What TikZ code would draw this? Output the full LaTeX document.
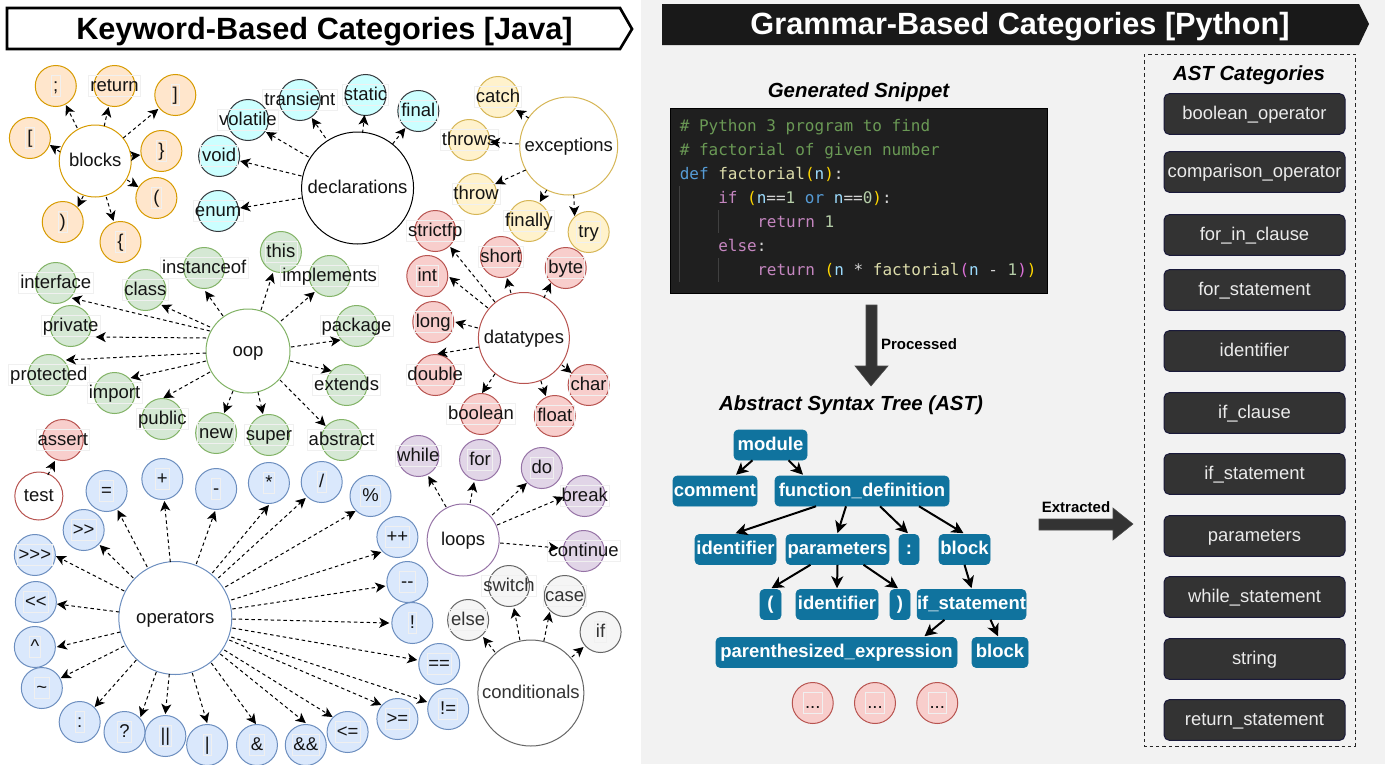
\documentclass[tikz,border=0pt]{standalone}
\usepackage{fontspec}
\usetikzlibrary{arrows.meta,calc}
\newfontfamily\sansf{Liberation Sans}[Ligatures=NoCommon]
\newfontfamily\codef{DejaVu Sans Mono}
\definecolor{orF}{HTML}{FFE6CC}\definecolor{orD}{HTML}{D79B00}
\definecolor{cyF}{HTML}{CCFFFF}\definecolor{cyD}{HTML}{36393D}
\definecolor{yeF}{HTML}{FFF2CC}\definecolor{yeD}{HTML}{D6B656}
\definecolor{reF}{HTML}{F8CECC}\definecolor{reD}{HTML}{B85450}
\definecolor{grF}{HTML}{D5E8D4}\definecolor{grD}{HTML}{82B366}
\definecolor{blF}{HTML}{DAE8FC}\definecolor{blD}{HTML}{6C8EBF}
\definecolor{puF}{HTML}{E1D5E7}\definecolor{puD}{HTML}{9673A6}
\definecolor{siF}{HTML}{F5F5F5}\definecolor{siD}{HTML}{666666}
\definecolor{panel}{HTML}{F2F2F2}
\definecolor{astblue}{HTML}{10739E}
\definecolor{btn}{HTML}{333333}\definecolor{btnD}{HTML}{1A1A3A}
\definecolor{cCom}{HTML}{6A9955}\definecolor{cKey}{HTML}{569CD6}
\definecolor{cFun}{HTML}{DCDCAA}\definecolor{cPar}{HTML}{FFD700}
\definecolor{cVar}{HTML}{9CDCFE}\definecolor{cTxt}{HTML}{D4D4D4}
\definecolor{cCtl}{HTML}{C586C0}\definecolor{cNum}{HTML}{B5CEA8}
\definecolor{cPink}{HTML}{DA70D6}
\newcommand{\fpx}[1]{\fontsize{\dimexpr#1pt*3/4\relax}{\dimexpr#1pt*9/10\relax}\selectfont}
\tikzset{
  x=0.75pt,y=-0.75pt,
  leafc/.style={circle,draw,line width=0.75pt,minimum size=30.75pt,inner sep=0pt},
  hub/.style={circle,draw,line width=0.75pt,fill=white,inner sep=0pt},
  lab/.style={draw=black!6,line width=0.5pt,inner xsep=1.2pt,inner ysep=1pt,text height=11pt,text depth=2.5pt,font=\sansf\fpx{18.5},text=black!92},
  hubtxt/.style={font=\sansf\fpx{18.5},text=black!92,inner sep=0pt,text height=11pt,text depth=2.5pt},
  or/.style={fill=orF,draw=orD},cy/.style={fill=cyF,draw=cyD},ye/.style={fill=yeF,draw=yeD},
  re/.style={fill=reF,draw=reD},gr/.style={fill=grF,draw=grD},bl/.style={fill=blF,draw=blD},
  pu/.style={fill=puF,draw=puD},si/.style={fill=siF,draw=siD},
  dep/.style={draw=black,line width=0.75pt,dash pattern=on 2.6pt off 2.2pt,-{Stealth[length=7.5pt,width=7.5pt,inset=2pt]}},
  astn/.style={rounded corners=3pt,fill=astblue,draw=astblue,inner sep=0pt,text=white,font=\sansf\bfseries\fpx{18.5},minimum height=22.5pt,text height=11pt,text depth=3pt},
  aste/.style={draw=black,line width=1.5pt,-{Stealth[length=9pt,width=9pt,inset=2.5pt]}},
  cat/.style={rounded corners=4pt,fill=btn,draw=btnD,line width=0.75pt,minimum width=135.75pt,minimum height=30.5pt,inner sep=0pt,text=white!92!black,font=\sansf\fpx{18.4},text height=10.5pt,text depth=3pt},
  code/.style={anchor=base west,inner sep=0pt,font=\codef\fpx{16}},
  head/.style={font=\sansf\bfseries\itshape\fpx{20.4},inner sep=0pt},
  blockarrow/.style={fill=btn,draw=black!70,line width=0.4pt},
  smallb/.style={font=\sansf\bfseries\fpx{15},inner sep=0pt},
  guide/.style={draw=white!25!black,line width=0.6pt},
}
\newcommand{\leaf}[5]{\node[leafc,#2] (#1) at ({#3*0.996},#4) {}; \node[lab] (#1t) at ({#3*0.996},#4) {#5};}
\newcommand{\hubn}[6]{\node[hub,draw=#2,minimum size=#5*1.5pt] (#1) at ({#3*0.996},#4) {}; \node[hubtxt] (#1t) at ({#3*0.996},#4) {#6};}
\newcommand{\ed}[6]{\draw[dep] ($(#1)+(#3,#4)$) -- ($(#2)+(#5,#6)$);}
\newcommand{\astn}[6]{\node[astn,minimum width=#3*0.75pt-#2*0.75pt] (#1) at ({(#2+#3)/2},{(#4+#5)/2}) {#6};}
\newcommand{\catn}[3]{\node[cat] (#1) at (1254.5,#2) {#3};}
\newcommand{\cc}[2]{\textcolor{#1}{#2}}
\begin{document}
\begin{tikzpicture}
\useasboundingbox (0,0) rectangle (1385,764);
\fill[white] (0,0) rectangle (641,764);
\fill[panel] (641,0) rectangle (1385,764);
% titles
\draw[line width=2pt,fill=white] (7,8) -- (620,8) -- (632,29) -- (620,49) -- (7,49) -- cycle;
\node[font=\sansf\bfseries\fpx{30.7},inner sep=0pt] (ttl) at (324.5,31.5) {Keyword-Based Categories [Java]};
\fill[black!90] (662,4) -- (1359,4) -- (1369,24) -- (1359,45) -- (662,45) -- cycle;
\node[font=\sansf\bfseries\fpx{30.7},text=white,inner sep=0pt] (ttr) at (1020,27) {Grammar-Based Categories [Python]};
% blocks
\hubn{blocks}{orD}{95.6}{161}{36}{blocks}
\leaf{bsemi}{or}{56}{86}{;}\leaf{breturn}{or}{115}{86}{return}\leaf{brb}{or}{176}{95}{]}
\leaf{blb}{or}{30}{138}{[}\leaf{brc}{or}{162}{151}{\}}\leaf{blp}{or}{157}{198}{(}
\leaf{brp}{or}{63}{222}{)}\leaf{blc}{or}{121}{242}{\{}
\ed{blocks}{bsemi}{-18}{-33}{10}{19}\ed{blocks}{breturn}{9}{-35}{-6}{21}\ed{blocks}{brb}{28}{-23}{-17}{14}
\ed{blocks}{blb}{-35}{-9}{20}{7}\ed{blocks}{brc}{36}{-5}{-21}{4}\ed{blocks}{blp}{32}{19}{-18}{-11}
\ed{blocks}{brp}{-12}{35}{15}{-15}\ed{blocks}{blc}{11}{36}{-7}{-21}
% declarations
\hubn{decl}{black}{359}{188}{56}{declarations}
\leaf{dtrans}{cy}{301}{100}{transient}\leaf{dstatic}{cy}{367}{95}{static}\leaf{dfinal}{cy}{420}{111}{final}
\leaf{dvol}{cy}{249}{120}{volatile}\leaf{dvoid}{cy}{220}{156}{void}\leaf{denum}{cy}{219}{211}{enum}
\ed{decl}{dtrans}{-32}{-50}{12}{18}\ed{decl}{dstatic}{5}{-55}{-1}{20}\ed{decl}{dfinal}{35}{-44}{-13}{17}
\ed{decl}{dvol}{-49}{-31}{18}{12}\ed{decl}{dvoid}{-56}{-12}{21}{5}\ed{decl}{denum}{-56}{10}{22}{-3}
% exceptions
\hubn{exc}{yeD}{571}{146}{49}{exceptions}
\leaf{ecatch}{ye}{500}{97}{catch}\leaf{ethrows}{ye}{471}{140}{throws}\leaf{ethrow}{ye}{478}{194}{throw}
\leaf{efinally}{ye}{531}{221}{finally}\leaf{etry}{ye}{591}{232}{try}
\ed{exc}{ecatch}{-40}{-28}{18}{13}\ed{exc}{ethrows}{-50}{-2}{21}{2}\ed{exc}{ethrow}{-43}{24}{19}{-10}
\ed{exc}{efinally}{-22}{44}{11}{-19}\ed{exc}{etry}{5}{49}{-14}{-16}
% datatypes
\hubn{dat}{reD}{526}{338}{45.5}{datatypes}
\leaf{tstrict}{re}{437}{231}{strictfp}\leaf{tshort}{re}{503}{257}{short}\leaf{tbyte}{re}{568}{268}{byte}
\leaf{tint}{re}{429}{276}{int}\leaf{tlong}{re}{435}{322}{long}\leaf{tdouble}{re}{437}{375}{double}
\leaf{tbool}{re}{483}{414}{boolean}\leaf{tfloat}{re}{557}{416}{float}\leaf{tchar}{re}{591}{385}{char}
\ed{dat}{tstrict}{-29}{-36}{15}{16}\ed{dat}{tshort}{-13}{-45}{6}{21}\ed{dat}{tbyte}{20}{-40}{-15}{15}
\ed{dat}{tint}{-36}{-30}{22}{1}\ed{dat}{tlong}{-46}{-10}{22}{0}\ed{dat}{tdouble}{-45}{9}{2}{-21}
\ed{dat}{tbool}{-29}{36}{1}{-21}\ed{dat}{tfloat}{17}{43}{-9}{-20}\ed{dat}{tchar}{38}{27}{-17}{-12}
% oop
\hubn{oop}{grD}{249}{351}{42}{oop}
\leaf{othis}{gr}{282}{252}{this}\leaf{oinst}{gr}{205}{268}{instanceof}\leaf{oimpl}{gr}{331}{276}{implements}
\leaf{oclass}{gr}{146}{290}{class}\leaf{oiface}{gr}{56}{283}{interface}\leaf{opack}{gr}{358}{326}{package}
\leaf{opriv}{gr}{71}{326}{private}\leaf{oext}{gr}{348}{385}{extends}\leaf{oprot}{gr}{49}{375}{protected}
\leaf{oimp}{gr}{115}{393}{import}\leaf{opub}{gr}{163}{419}{public}\leaf{onew}{gr}{217}{433}{new}
\leaf{osuper}{gr}{270}{435}{super}\leaf{oabs}{gr}{343}{440}{abstract}
\ed{oop}{othis}{13}{-41}{-8}{21}\ed{oop}{oinst}{-25}{-35}{1}{23}\ed{oop}{oimpl}{33}{-30}{-15}{16}
\ed{oop}{oclass}{-38}{-24}{16}{15}\ed{oop}{oiface}{-38}{-20}{16}{15}\ed{oop}{opack}{43}{-4}{-16}{14}
\ed{oop}{opriv}{-42}{-13}{25}{11}\ed{oop}{oext}{42}{10}{-15}{-14}\ed{oop}{oprot}{-42}{2}{17}{-15}
\ed{oop}{oimp}{-42}{10}{16}{-15}\ed{oop}{opub}{-38}{21}{1}{-21}\ed{oop}{onew}{-15}{40}{8}{-20}
\ed{oop}{osuper}{10}{41}{-6}{-21}\ed{oop}{oabs}{32}{29}{-16}{-14}
% test
\hubn{test}{reD}{39}{496}{24}{test}
\leaf{tassert}{re}{63}{440}{assert}
\ed{test}{tassert}{9}{-21}{-8}{21}
% operators
\hubn{ops}{blD}{176}{618}{56.5}{operators}
\leaf{pa}{bl}{107}{491}{=}\leaf{pb}{bl}{163}{479}{+}\leaf{pc}{bl}{217}{489}{-}\leaf{pd}{bl}{270}{483}{*}
\leaf{pe}{bl}{323}{482}{/}\leaf{pf}{bl}{372}{496}{\%}\leaf{pg}{bl}{399}{537}{++}\leaf{ph}{bl}{409}{582}{--}
\leaf{pi}{bl}{414}{623}{!}\leaf{pj}{bl}{441}{664}{==}\leaf{pk}{bl}{450}{709}{!=}\leaf{pl}{bl}{399}{719}{>=}
\leaf{pm}{bl}{349}{732}{<=}\leaf{pn}{bl}{307}{745}{\&\&}\leaf{po}{bl}{258}{745}{\&}\leaf{pp}{bl}{208}{745}{|}
\leaf{pq}{bl}{166}{736}{||}\leaf{pr}{bl}{125}{732}{?}\leaf{ps}{bl}{80}{722}{:}\leaf{pt}{bl}{42}{688}{\textasciitilde}
\leaf{pu}{bl}{35}{647}{\textasciicircum}\leaf{pv}{bl}{36}{602}{<<}\leaf{pw}{bl}{35}{555}{>>>}\leaf{px}{bl}{84}{530}{>>}
\ed{ops}{pa}{-28}{-51}{11}{19}\ed{ops}{pb}{-5}{-56}{2}{22}\ed{ops}{pc}{21}{-54}{-1}{22}\ed{ops}{pd}{37}{-45}{0}{22}
\ed{ops}{pe}{43}{-40}{-16}{16}\ed{ops}{pf}{50}{-31}{-15}{15}\ed{ops}{pg}{56}{-18}{-16}{15}\ed{ops}{ph}{57}{-9}{-22}{4}
\ed{ops}{pi}{57}{1}{-23}{0}\ed{ops}{pj}{57}{10}{-22}{-4}\ed{ops}{pk}{56}{19}{-21}{-7}\ed{ops}{pl}{54}{22}{-16}{-14}
\ed{ops}{pm}{49}{32}{-15}{-15}\ed{ops}{pn}{45}{36}{0}{-22}\ed{ops}{po}{36}{45}{-1}{-21}\ed{ops}{pp}{17}{55}{0}{-22}
\ed{ops}{pq}{-6}{56}{0}{-22}\ed{ops}{pr}{-19}{54}{16}{-15}\ed{ops}{ps}{-39}{42}{15}{-15}\ed{ops}{pt}{-51}{28}{19}{-10}
\ed{ops}{pu}{-55}{14}{22}{0}\ed{ops}{pv}{-56}{-6}{21}{2}\ed{ops}{pw}{-51}{-27}{21}{1}\ed{ops}{px}{-42}{-40}{16}{15}
% loops
\hubn{loops}{puD}{465}{540}{36}{loops}
\leaf{lwhile}{pu}{420}{456}{while}\leaf{lfor}{pu}{482}{460}{for}\leaf{ldo}{pu}{544}{468}{do}
\leaf{lbreak}{pu}{587}{496}{break}\leaf{lcont}{pu}{586}{551}{continue}
\ed{loops}{lwhile}{-17}{-33}{10}{20}\ed{loops}{lfor}{7}{-37}{-6}{22}\ed{loops}{ldo}{29}{-25}{-15}{15}
\ed{loops}{lbreak}{34}{-15}{-21}{1}\ed{loops}{lcont}{37}{3}{-25}{-3}
% conditionals
\hubn{cond}{siD}{533}{693}{53}{\textcolor{black!80}{conditionals}}
\tikzset{lab/.append style={text=black!80}}
\leaf{celse}{si}{470}{620}{else}\leaf{cswitch}{si}{511}{586}{switch}\leaf{ccase}{si}{567}{596}{case}\leaf{cif}{si}{603}{632}{if}
\tikzset{lab/.append style={text=black!92}}
\ed{cond}{celse}{-36}{-41}{15}{17}\ed{cond}{cswitch}{-11}{-53}{5}{22}\ed{cond}{ccase}{13}{-52}{-15}{16}\ed{cond}{cif}{41}{-36}{-17}{15}
% code
\node[head] (gs) at (858.5,92.5) {Generated Snippet};
\node[rectangle,draw=black,fill=black!88,minimum width=282.75pt,minimum height=138.75pt,inner sep=0pt] (codebox) at (858.5,200.5) {};
\coordinate (gA) at (679,186);\coordinate (gB) at (679,282);\coordinate (gC) at (718,210);\coordinate (gD) at (718,233);\coordinate (gE) at (718,258);\coordinate (gF) at (718,282);
\draw[guide] (gA) -- (gB); \draw[guide] (gC) -- (gD); \draw[guide] (gE) -- (gF);
\node[code] (c1) at (679.5,131) {\cc{cCom}{\# Python 3 program to find}};
\node[code] (c2) at (679.5,155) {\cc{cCom}{\# factorial of given number}};
\node[code] (c3) at (679.5,179) {\cc{cKey}{def} \cc{cFun}{factorial}\cc{cPar}{(}\cc{cVar}{n}\cc{cPar}{)}\cc{cTxt}{:}};
\node[code] (c4) at (718,203) {\cc{cCtl}{if} \cc{cPar}{(}\cc{cVar}{n}\cc{cTxt}{==}\cc{cNum}{1} \cc{cKey}{or} \cc{cVar}{n}\cc{cTxt}{==}\cc{cNum}{0}\cc{cPar}{)}\cc{cTxt}{:}};
\node[code] (c5) at (757,227) {\cc{cCtl}{return} \cc{cNum}{1}};
\node[code] (c6) at (718,251) {\cc{cCtl}{else}\cc{cTxt}{:}};
\node[code] (c7) at (757,275) {\cc{cCtl}{return} \cc{cPar}{(}\cc{cVar}{n} \cc{cTxt}{*} \cc{cFun}{factorial}\cc{cPink}{(}\cc{cVar}{n} \cc{cTxt}{-} \cc{cNum}{1}\cc{cPink}{)}\cc{cPar}{)}};
% block arrows
\draw[blockarrow] (866,305) -- (877,305) -- (877,366) -- (888,366) -- (871,386) -- (855,366) -- (866,366) -- cycle;
\node[smallb] (proc) at (919,344) {Processed};
\draw[blockarrow] (1039,519) -- (1113,519) -- (1113,508) -- (1133,524) -- (1113,540) -- (1113,530) -- (1039,530) -- cycle;
\node[smallb] (extr) at (1076,507) {Extracted};
% AST
\node[head] (ah) at (851,405.5) {Abstract Syntax Tree (AST)};
\astn{module}{734}{807}{430}{460}{module}
\astn{comment}{673}{757}{476}{506}{comment}
\astn{func}{775}{949}{476}{506}{function\_definition}
\astn{id1}{695}{776}{534}{565}{identifier}
\astn{params}{786}{889}{534}{565}{parameters}
\astn{colon}{899}{919}{534}{565}{:}
\astn{block1}{939}{990}{534}{565}{block}
\astn{lpar}{760}{781}{589}{620}{(}
\astn{id2}{796}{878}{589}{620}{identifier}
\astn{rpar}{890}{910}{589}{620}{)}
\astn{ifst}{919}{1024}{589}{620}{if\_statement}
\astn{pexp}{716}{957}{637}{668}{parenthesized\_expression}
\astn{block2}{972}{1028}{637}{668}{block}
\draw[aste] ($(module.south)+(-18,0)$) -- ($(comment.north)+(21,-1)$);
\draw[aste] ($(module.south)+(18,0)$) -- ($(func.north)+(-59,-1)$);
\draw[aste] ($(func.south)+(-46,0)$) -- ($(id1.north)+(0,-1)$);
\draw[aste] ($(func.south)+(-16,0)$) -- ($(params.north)+(0,-1)$);
\draw[aste] ($(func.south)+(18,0)$) -- ($(colon.north)+(-1,-1)$);
\draw[aste] ($(func.south)+(57,0)$) -- ($(block1.north)+(-1,-1)$);
\draw[aste] ($(params.south)+(-27,0)$) -- ($(lpar.north)+(1,-1)$);
\draw[aste] ($(params.south)+(0,0)$) -- ($(id2.north)+(0,-1)$);
\draw[aste] ($(params.south)+(26,0)$) -- ($(rpar.north)+(-2,-1)$);
\draw[aste] (block1.south) -- ($(ifst.north)+(0,-1)$);
\draw[aste] ($(ifst.south)+(-27,0)$) -- ($(pexp.north)+(88,-1)$);
\draw[aste] ($(ifst.south)+(19,0)$) -- ($(block2.north)+(-2,-1)$);
\leaf{d1}{re}{816}{703}{...}\leaf{d2}{re}{878.5}{703}{...}\leaf{d3}{re}{941}{703}{...}
% categories
\coordinate (pA) at (1144,54);\coordinate (pB) at (1355,746);
\draw[draw=black!85,line width=0.75pt,dash pattern=on 2.6pt off 2.2pt] (pA) rectangle (pB);
\node[head] (acat) at (1249,75.5) {AST Categories};
\catn{k1}{114}{boolean\_operator}
\catn{k2}{172}{comparison\_operator}
\catn{k3}{235}{for\_in\_clause}
\catn{k4}{290}{for\_statement}
\catn{k5}{351}{identifier}
\catn{k6}{413}{if\_clause}
\catn{k7}{474}{if\_statement}
\catn{k8}{536}{parameters}
\catn{k9}{597}{while\_statement}
\catn{k10}{659}{string}
\catn{k11}{720}{return\_statement}
\end{tikzpicture}
\end{document}
